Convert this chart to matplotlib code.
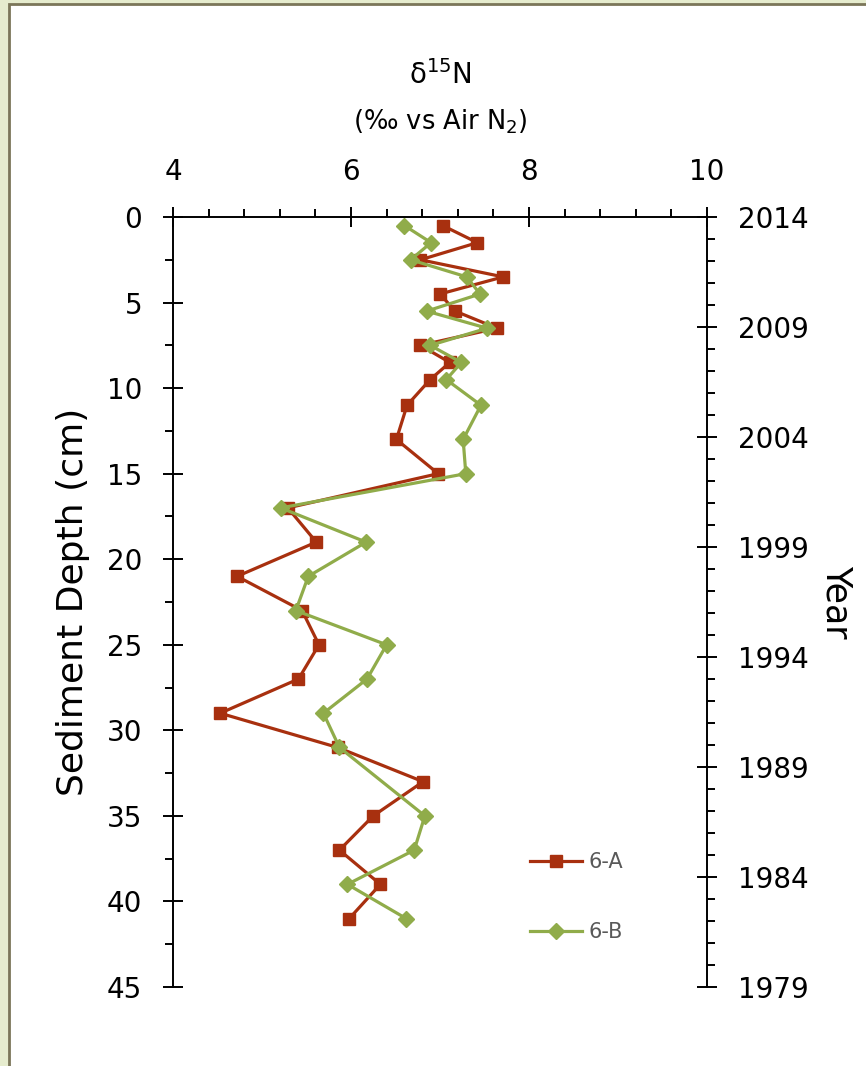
import matplotlib
matplotlib.use("Agg")
import matplotlib.pyplot as plt
from matplotlib.ticker import MultipleLocator
from matplotlib.patches import Rectangle

# ---- data ----
depth_a = [0.5, 1.5, 2.5, 3.5, 4.5, 5.5, 6.5, 7.5, 8.5, 9.5, 11, 13, 15,
           17, 19, 21, 23, 25, 27, 29, 31, 33, 35, 37, 39, 41]
d15n_a = [7.03, 7.42, 6.78, 7.71, 7.00, 7.17, 7.64, 6.78, 7.11, 6.89, 6.63, 6.51, 6.98,
          5.29, 5.61, 4.72, 5.45, 5.64, 5.41, 4.53, 5.85, 6.81, 6.25, 5.87, 6.33, 5.98]
depth_b = [0.5, 1.5, 2.5, 3.5, 4.5, 5.5, 6.5, 7.5, 8.5, 9.5, 11, 13, 15,
           17, 19, 21, 23, 25, 27, 29, 31, 35, 37, 39, 41]
d15n_b = [6.60, 6.90, 6.67, 7.30, 7.45, 6.85, 7.53, 6.89, 7.24, 7.07, 7.46, 7.26, 7.29,
          5.21, 6.17, 5.52, 5.38, 6.40, 6.18, 5.69, 5.87, 6.83, 6.71, 5.96, 6.62]
series_names = ["6-A", "6-B"]
x_ticks = [4, 6, 8, 10]
depth_ticks = [0, 5, 10, 15, 20, 25, 30, 35, 40, 45]
year_ticks = [2014, 2009, 2004, 1999, 1994, 1989, 1984, 1979]

RED = "#A8300F"
GREEN = "#90AC4A"
FONT = "DejaVu Sans"
plt.rcParams['font.family'] = [FONT]
plt.rcParams['mathtext.default'] = 'regular'

W, H = 866, 1066
fig = plt.figure(figsize=(W / 100, H / 100), dpi=100)
fig.patch.set_facecolor("#E6ECCE")
# white panel with dark border
fig.patches.append(Rectangle((8.5 / W, -0.05), 1.1, 1 - 3.5 / H + 0.05,
                             transform=fig.transFigure, facecolor="white",
                             edgecolor="#7B7659", linewidth=2.0, zorder=-10))

ax = fig.add_axes([173 / W, 1 - 987 / H, (707 - 173) / W, (987 - 217) / H])
ax.set_facecolor("none")
ax.plot(d15n_a, depth_a, color=RED, lw=2.3, marker="s", ms=9,
        label=series_names[0], zorder=3)
ax.plot(d15n_b, depth_b, color=GREEN, lw=2.3, marker="D", ms=8,
        label=series_names[1], zorder=4)

ax.set_xlim(4, 10)
ax.set_ylim(45, 0)
ax.xaxis.tick_top()
ax.set_xticks(x_ticks)
ax.xaxis.set_minor_locator(MultipleLocator(0.4))
ax.set_yticks(depth_ticks)
ax.yaxis.set_minor_locator(MultipleLocator(2.5))
for s in ["bottom", "right"]:
    ax.spines[s].set_visible(False)
for s in ["top", "left"]:
    ax.spines[s].set_linewidth(1.4)
ax.tick_params(which="major", direction="inout", length=14.4, width=1.4,
               labelsize=20, pad=15)
ax.tick_params(which="minor", direction="out", length=6, width=1.4)
ax.set_ylabel("Sediment Depth (cm)", fontsize=26, labelpad=12)

ax2 = ax.twinx()
ax2.set_ylim(1979, 2014)
ax2.set_yticks(year_ticks)
ax2.yaxis.set_minor_locator(MultipleLocator(1))
for s in ["top", "bottom", "left"]:
    ax2.spines[s].set_visible(False)
ax2.spines["right"].set_linewidth(1.4)
ax2.tick_params(which="major", direction="inout", length=14.4, width=1.4,
                labelsize=20, pad=15)
ax2.tick_params(which="minor", direction="out", length=6, width=1.4)
ax2.set_ylabel("Year", fontsize=25, rotation=270, labelpad=32)

fig.text(440 / W, 1 - 75 / H, "δ$^{15}$N", ha="center", va="center", fontsize=20)
fig.text(440 / W, 1 - 122 / H, "(‰ vs Air N$_2$)", ha="center", va="center", fontsize=18.5)

leg = ax.legend(loc="center left", bbox_to_anchor=(530 / W, 1 - 897 / H),
                bbox_transform=fig.transFigure, frameon=False, fontsize=15,
                handlelength=2.5, handletextpad=0.3, labelspacing=2.4,
                borderpad=0, borderaxespad=0, numpoints=1, markerscale=1.0)
for t in leg.get_texts():
    t.set_color("#595959")

fig.savefig("out.png", dpi=100, facecolor=fig.get_facecolor())
